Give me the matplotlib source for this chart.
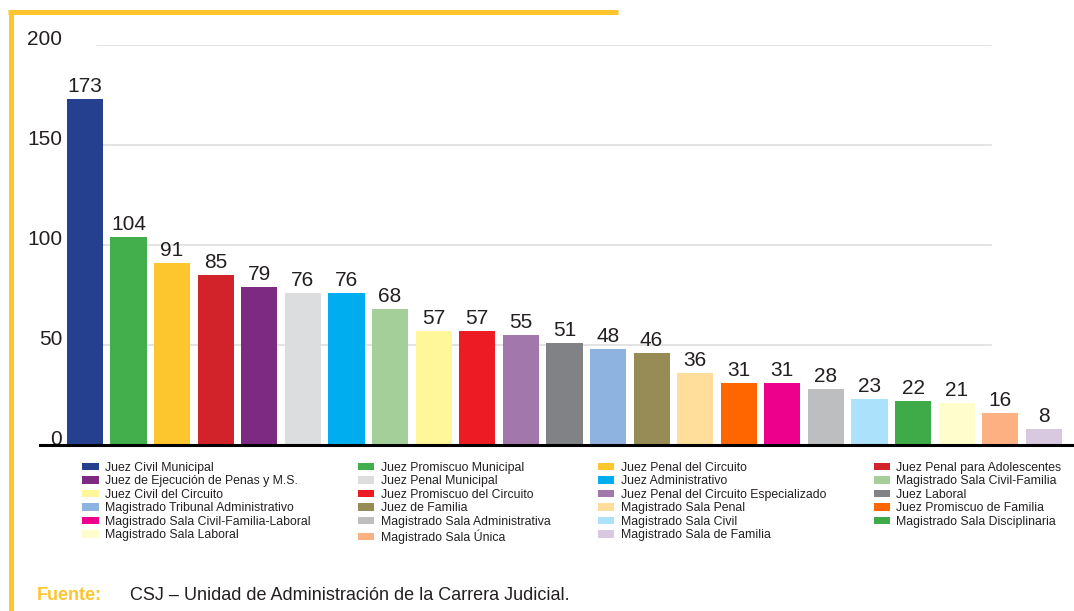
import matplotlib
matplotlib.use('Agg')
import matplotlib.pyplot as plt
from matplotlib.lines import Line2D
from matplotlib.patches import Patch

plt.rcParams['font.family'] = ['Liberation Sans', 'DejaVu Sans']

cargos = [
  'Juez Civil Municipal', 'Juez Promiscuo Municipal', 'Juez Penal del Circuito',
  'Juez Penal para Adolescentes', 'Juez de Ejecución de Penas y M.S.',
  'Juez Penal Municipal', 'Juez Administrativo', 'Magistrado Sala Civil-Familia',
  'Juez Civil del Circuito', 'Juez Promiscuo del Circuito',
  'Juez Penal del Circuito Especializado', 'Juez Laboral',
  'Magistrado Tribunal Administrativo', 'Juez de Familia', 'Magistrado Sala Penal',
  'Juez Promiscuo de Familia', 'Magistrado Sala Civil-Familia-Laboral',
  'Magistrado Sala Administrativa', 'Magistrado Sala Civil',
  'Magistrado Sala Disciplinaria', 'Magistrado Sala Laboral',
  'Magistrado Sala Única', 'Magistrado Sala de Familia',
]
cantidad = [173, 104, 91, 85, 79, 76, 76, 68, 57, 57, 55, 51, 48, 46,
            36, 31, 31, 28, 23, 22, 21, 16, 8]
colores = [
  '#24408E', '#42AE4C', '#FDC52E', '#D2232A', '#7D2A82', '#DCDDDE',
  '#00AEEF', '#A5CF98', '#FFF799', '#ED1C24', '#A278AC', '#808285',
  '#8EB3E0', '#978C55', '#FEDE9A', '#FF6600', '#EC008C', '#BCBEC0',
  '#ABE1FA', '#3FAA48', '#FFFDCC', '#FDB183', '#D9C9E0',
]
yticks = [0, 50, 100, 150, 200]

amarillo = '#FFC52F'
texto = '#231F20'

fig = plt.figure(figsize=(10.74, 6.11), dpi=100)
ax = fig.add_axes([40 / 1074, 1 - 445 / 611, 1 - 40 / 1074, 400 / 611])

x = range(len(cantidad))
for yv in yticks[1:]:
  ax.axhline(yv, xmin=0.055, xmax=0.92, color='#DEDEDE', lw=1.2, zorder=0)
bars = ax.bar(x, cantidad, width=0.83, color=colores, zorder=2)
for b, v in zip(bars, cantidad):
  ax.text(b.get_x() + b.get_width() / 2, v + 1.5, str(v), ha='center', va='bottom',
          fontsize=15, color=texto)

ax.set_xlim(-1.03, 22.69)
ax.set_ylim(0, 200)
ax.set_xticks([])
ax.set_yticks(yticks)
ax.tick_params(axis='y', length=0, pad=-16, labelsize=15, labelcolor=texto)
for lab in ax.get_yticklabels():
  lab.set_verticalalignment('baseline')
for s in ['top', 'right', 'left']:
  ax.spines[s].set_visible(False)
ax.spines['bottom'].set_linewidth(2.2)
ax.spines['bottom'].set_color('black')
ax.patch.set_alpha(0)

# legend filled row by row across four columns
orden = [i for c in range(4) for i in range(c, len(cargos), 4)]
handles = [Patch(facecolor=colores[i], edgecolor='none', label=cargos[i]) for i in orden]
fig.legend(handles=handles, loc='upper left', bbox_to_anchor=(82 / 1074, 1 - 462 / 611),
           ncol=4, frameon=False, fontsize=8.8, borderpad=0, borderaxespad=0,
           labelspacing=0.12, handlelength=1.35, handleheight=0.55,
           handletextpad=0.5, columnspacing=3.9, labelcolor=texto)

# yellow frame along top and left
fig.add_artist(Line2D([8 / 1074, 618 / 1074], [1 - 12 / 611, 1 - 12 / 611],
                      color=amarillo, lw=3.6, solid_capstyle='butt'))
fig.add_artist(Line2D([11 / 1074, 11 / 1074], [1 - 10 / 611, 0],
                      color=amarillo, lw=3.6, solid_capstyle='butt'))

fig.text(37 / 1074, 1 - 595 / 611, 'Fuente:', color=amarillo, fontsize=13,
         fontweight='bold', va='center')
fig.text(130 / 1074, 1 - 595 / 611, 'CSJ – Unidad de Administración de la Carrera Judicial.',
         color=texto, fontsize=13, va='center')

fig.savefig('out.png', dpi=100)
